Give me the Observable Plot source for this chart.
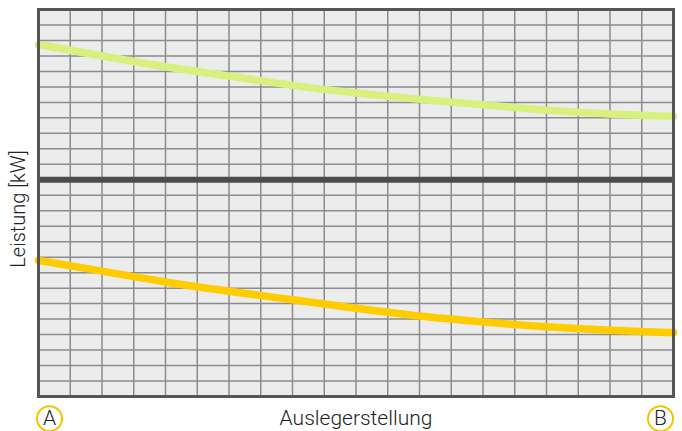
<!DOCTYPE html>
<html>
<head>
<meta charset="utf-8">
<script src="https://cdn.jsdelivr.net/npm/d3@7"></script>
<script src="https://cdn.jsdelivr.net/npm/@observablehq/plot@0.6"></script>
<style>
  html, body { margin: 0; padding: 0; background: #ffffff; }
  #chart svg { display: block; }
</style>
</head>
<body>
<div id="chart"></div>
<script>
// Position along the boom (0 = A, 20 = B), grid units
const positions = [0, 2, 4, 6, 8, 10, 12, 14, 16, 18, 20];
// Upper curve (light green), grid units of power
const upperSeries = [22.74, 22.0, 21.3, 20.7, 20.1, 19.6, 19.2, 18.85, 18.5, 18.25, 18.1];
// Lower curve (yellow)
const lowerSeries = [8.79, 8.1, 7.4, 6.8, 6.25, 5.7, 5.2, 4.82, 4.5, 4.28, 4.13];
// Reference level (dark line)
const referenceLevel = [14];
// Grid lines
const xGrid = d3.range(0, 21);
const yGrid = d3.range(0, 26);
// Labels
const xLabel = "Auslegerstellung";
const yLabel = "Leistung [kW]";
const endLabels = [{x: 0, label: "A"}, {x: 20, label: "B"}];

const upper = positions.map((x, i) => ({x, y: upperSeries[i]}));
const lower = positions.map((x, i) => ({x, y: lowerSeries[i]}));

const font = "Roboto, 'Liberation Sans', sans-serif";

const chart = Plot.plot({
  width: 682,
  height: 431,
  marginLeft: 38,
  marginRight: 9,
  marginTop: 9,
  marginBottom: 35,
  style: {fontFamily: font, background: "#ffffff"},
  x: {domain: [0, 20], axis: null},
  y: {domain: [0, 25], axis: null},
  marks: [
    Plot.frame({fill: "#ebeceb", stroke: null}),
    Plot.ruleX(xGrid, {stroke: "#8c8c8c", strokeWidth: 1.5}),
    Plot.ruleY(yGrid, {stroke: "#8c8c8c", strokeWidth: 1.5}),
    Plot.ruleY(referenceLevel, {stroke: "#4d4d4d", strokeWidth: 6}),
    Plot.line(upper, {x: "x", y: "y", curve: "monotone-x", stroke: "#d9ef7e", strokeWidth: 7.5}),
    Plot.line(lower, {x: "x", y: "y", curve: "monotone-x", stroke: "#ffcc00", strokeWidth: 7.5}),
    Plot.frame({stroke: "#555555", strokeWidth: 3}),
    Plot.text([xLabel], {frameAnchor: "bottom", textAnchor: "middle", dy: 28, fontSize: 21, fontWeight: 300, fill: "#222"}),
    Plot.text([yLabel], {frameAnchor: "left", textAnchor: "middle", rotate: -90, dx: -20, dy: 6, fontSize: 20, fontWeight: 300, fill: "#222"}),
    Plot.dot(endLabels.slice(0, 1), {x: "x", y: -1.43, dx: 11, r: 12.5, stroke: "#f5c400", strokeWidth: 2, fill: "white"}),
    Plot.dot(endLabels.slice(1), {x: "x", y: -1.43, dx: -13, r: 12.5, stroke: "#f5c400", strokeWidth: 2, fill: "white"}),
    Plot.text(endLabels.slice(0, 1), {x: "x", y: -1.43, dx: 11, text: "label", fontSize: 21, fontWeight: 300, fill: "#222"}),
    Plot.text(endLabels.slice(1), {x: "x", y: -1.43, dx: -13, text: "label", fontSize: 21, fontWeight: 300, fill: "#222"})
  ]
});

document.getElementById("chart").appendChild(chart);
</script>
</body>
</html>
